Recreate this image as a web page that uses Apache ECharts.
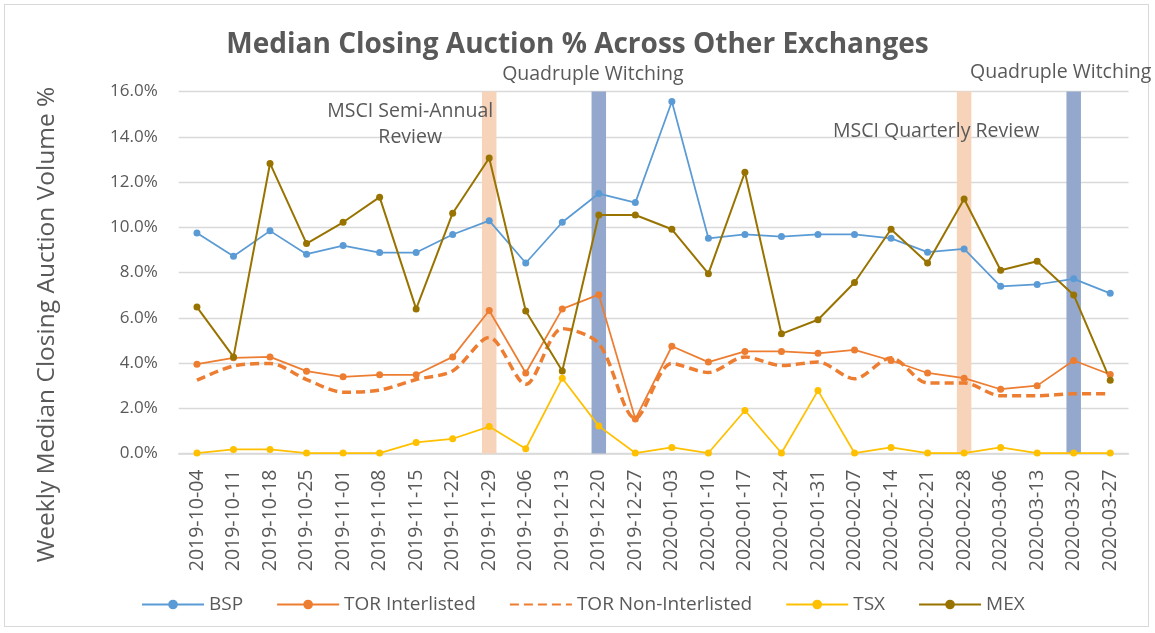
<!DOCTYPE html>
<html>
<head>
<meta charset="utf-8">
<script src="https://cdn.jsdelivr.net/npm/echarts@6/dist/echarts.min.js"></script>
<style>
  html, body { margin: 0; padding: 0; background: #ffffff; }
  #frame { position: absolute; left: 4px; top: 4px; width: 1145px; height: 623px; border: 1px solid #D9D9D9; box-sizing: border-box; }
  #chart { position: absolute; left: 0; top: 0; width: 1155px; height: 633px; }
</style>
</head>
<body>
<div id="frame"></div>
<div id="chart"></div>
<script>
// ---- Data ----
const categories = ['2019-10-04','2019-10-11','2019-10-18','2019-10-25','2019-11-01','2019-11-08','2019-11-15','2019-11-22','2019-11-29','2019-12-06','2019-12-13','2019-12-20','2019-12-27','2020-01-03','2020-01-10','2020-01-17','2020-01-24','2020-01-31','2020-02-07','2020-02-14','2020-02-21','2020-02-28','2020-03-06','2020-03-13','2020-03-20','2020-03-27'];
const bsp      = [9.75,8.72,9.84,8.81,9.19,8.88,8.88,9.68,10.29,8.42,10.22,11.49,11.09,15.56,9.51,9.68,9.59,9.68,9.68,9.51,8.90,9.04,7.39,7.47,7.72,7.08];
const torInter = [3.95,4.23,4.27,3.64,3.39,3.48,3.48,4.27,6.32,3.56,6.39,7.02,1.52,4.74,4.04,4.51,4.51,4.43,4.58,4.11,3.56,3.33,2.84,3.00,4.11,3.49];
const torNon   = [3.24,3.87,3.98,3.27,2.71,2.80,3.27,3.65,5.13,3.06,5.52,4.86,1.55,3.98,3.58,4.27,3.89,4.04,3.30,4.23,3.12,3.12,2.55,2.55,2.64,2.64];
const tsx      = [0.02,0.18,0.18,0.02,0.02,0.02,0.49,0.65,1.19,0.21,3.33,1.21,0.02,0.27,0.02,1.90,0.02,2.78,0.02,0.27,0.02,0.02,0.27,0.02,0.02,0.02];
const mex      = [6.47,4.27,12.82,9.28,10.22,11.33,6.39,10.62,13.06,6.30,3.65,10.54,10.54,9.91,7.95,12.43,5.29,5.91,7.56,9.91,8.42,11.25,8.10,8.50,7.01,3.24];
const yTicks   = [0,2,4,6,8,10,12,14,16];

// Event highlight bands (full height of the axis)
const msciDates  = ['2019-11-29','2020-02-28'];
const msciLabels = ['MSCI Semi-Annual\nReview','MSCI Quarterly Review'];
const quadDates  = ['2019-12-20','2020-03-20'];
const quadLabels = ['Quadruple Witching','Quadruple Witching'];
const bandTop = 16;

// ---- Styles ----
const TXT = '#595959';
const FONT = 'Open Sans';
const msciLabelOffsets = [[-79, 64], [-28, 58]];
const quadLabelOffsets = [[-6, 1], [-13, -1]];

function bandData(dates, labels, offsets) {
  return categories.map(c => {
    const i = dates.indexOf(c);
    if (i < 0) return '-';
    return {
      value: bandTop,
      label: {
        show: true, position: 'top', formatter: labels[i], offset: offsets[i],
        color: TXT, fontFamily: FONT, fontSize: 19.5, lineHeight: 26, align: 'center'
      }
    };
  });
}

const chart = echarts.init(document.getElementById('chart'), null, { renderer: 'canvas' });
const lineBase = (name, data, color, extra) => Object.assign({
  name, type: 'line', data, color,
  symbol: 'circle', symbolSize: 7,
  lineStyle: { width: 1.75, color },
  itemStyle: { color },
  z: 5, animation: false
}, extra || {});

chart.setOption({
  animation: false,
  title: {
    text: 'Median Closing Auction % Across Other Exchanges',
    left: 'center', top: 26,
    textStyle: { fontFamily: FONT, fontWeight: 'bold', fontSize: 28, color: TXT }
  },
  grid: { left: 178.7, right: 26.5, top: 91.5, bottom: 179.5 },
  legend: {
    left: 136, top: 590,
    itemWidth: 62, itemHeight: 12, itemGap: 33,
    textStyle: { fontFamily: FONT, fontSize: 19, color: TXT },
    data: ['BSP', 'TOR Interlisted',
      { name: 'TOR Non-Interlisted', itemStyle: { opacity: 0 } },
      'TSX', 'MEX']
  },
  xAxis: {
    type: 'category', data: categories, boundaryGap: true,
    axisLine: { lineStyle: { color: '#D9D9D9', width: 1.5 } },
    axisTick: { show: false },
    axisLabel: { rotate: 90, margin: 16, interval: 0, fontFamily: FONT, fontSize: 19.5, color: TXT }
  },
  yAxis: {
    type: 'value', min: yTicks[0], max: yTicks[yTicks.length - 1], interval: 2,
    name: 'Weekly Median Closing Auction Volume %',
    nameLocation: 'middle', nameGap: 119,
    nameTextStyle: { fontFamily: FONT, fontSize: 24.5, color: TXT, padding: [0, 104, 0, 0] },
    axisLine: { show: false }, axisTick: { show: false },
    axisLabel: { margin: 21, fontFamily: FONT, fontSize: 17, color: TXT, formatter: v => v.toFixed(1) + '%' },
    splitLine: { lineStyle: { color: '#D9D9D9', width: 1.3 } }
  },
  series: [
    { name: 'msciBand', type: 'bar', data: bandData(msciDates, msciLabels, msciLabelOffsets),
      barWidth: 14.5, barGap: '-100%', itemStyle: { color: '#F6D3B9' }, z: 1, silent: true },
    { name: 'quadBand', type: 'bar', data: bandData(quadDates, quadLabels, quadLabelOffsets),
      barWidth: 14.5, barGap: '-100%', itemStyle: { color: '#93A8CC' }, z: 1, silent: true },
    lineBase('BSP', bsp, '#5B9BD5'),
    lineBase('TOR Interlisted', torInter, '#ED7D31'),
    lineBase('TOR Non-Interlisted', torNon, '#ED7D31', {
      symbol: 'none', smooth: 0.3,
      lineStyle: { width: 3.5, color: '#ED7D31', type: [9, 5] }
    }),
    lineBase('TSX', tsx, '#FFC000'),
    lineBase('MEX', mex, '#997300', { lineStyle: { width: 2, color: '#997300' } })
  ]
});
</script>
</body>
</html>
